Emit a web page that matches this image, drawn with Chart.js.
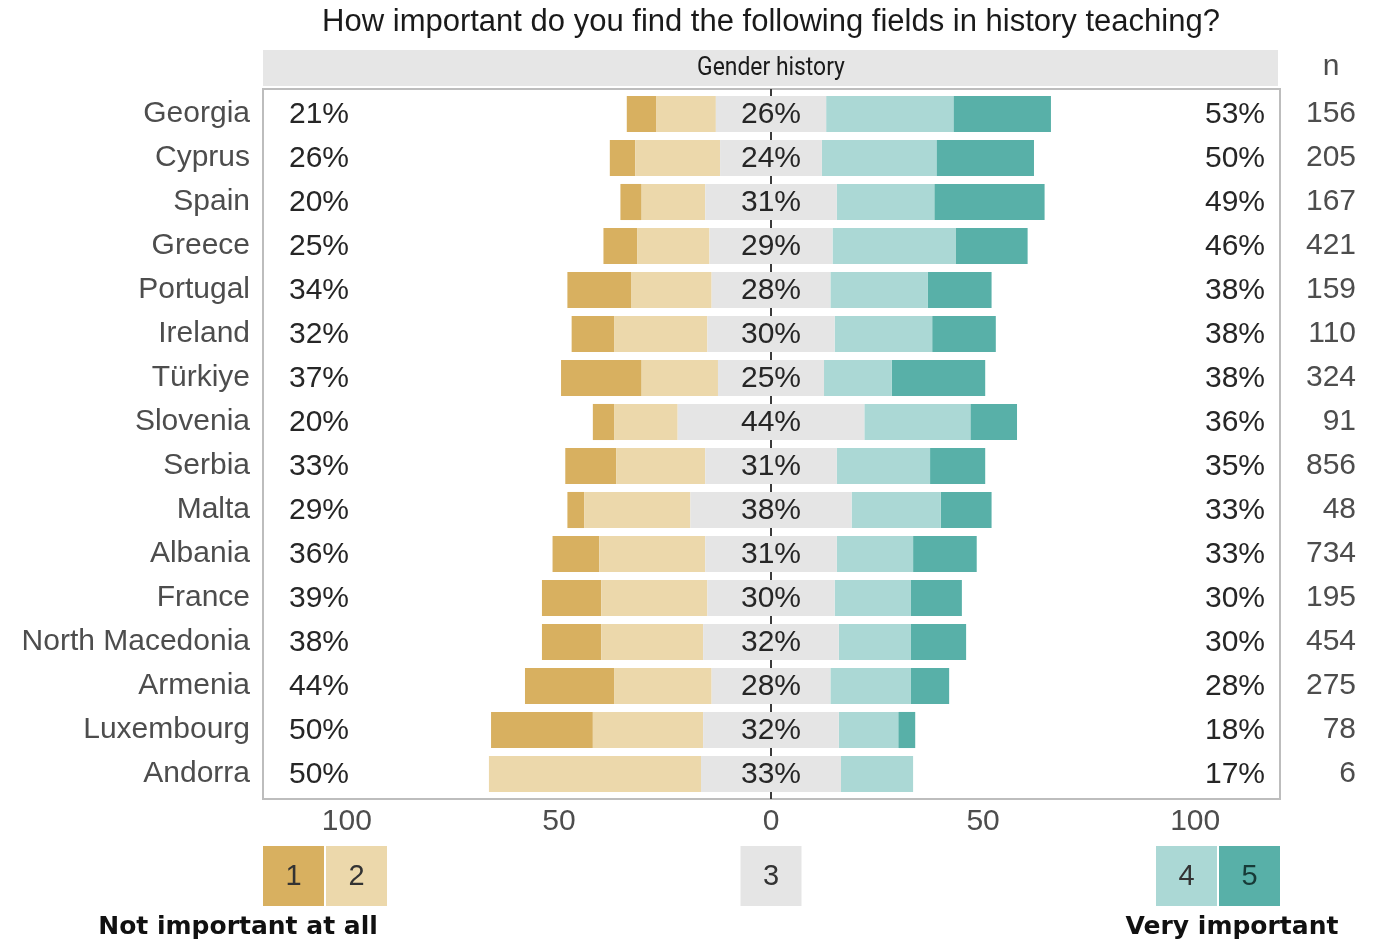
<!DOCTYPE html>
<html>
<head>
<meta charset="utf-8">
<script src="https://cdn.jsdelivr.net/npm/chart.js@4"></script>
<style>
  html, body { margin: 0; padding: 0; background: #fff; }
  #wrap { width: 1373px; height: 942px; position: relative; }
</style>
</head>
<body>
<div id="wrap"><canvas id="chart"></canvas></div>
<script>
const countries = ['Georgia', 'Cyprus', 'Spain', 'Greece', 'Portugal', 'Ireland', 'Türkiye', 'Slovenia',
  'Serbia', 'Malta', 'Albania', 'France', 'North Macedonia', 'Armenia', 'Luxembourg', 'Andorra'];
const nValues = [156, 205, 167, 421, 159, 110, 324, 91, 856, 48, 734, 195, 454, 275, 78, 6];

// share of answers per level (1 = not important at all ... 5 = very important)
const level1 = [7, 6, 5, 8, 15, 10, 19, 5, 12, 4, 11, 14, 14, 21, 24, 0];
const level2 = [14, 20, 15, 17, 19, 22, 18, 15, 21, 25, 25, 25, 24, 23, 26, 50];
const level3 = [26, 24, 31, 29, 28, 30, 25, 44, 31, 38, 31, 30, 32, 28, 32, 33];
const level4 = [30, 27, 23, 29, 23, 23, 16, 25, 22, 21, 18, 18, 17, 19, 14, 17];
const level5 = [23, 23, 26, 17, 15, 15, 22, 11, 13, 12, 15, 12, 13, 9, 4, 0];

// printed summaries
const lowPct = [21, 26, 20, 25, 34, 32, 37, 20, 33, 29, 36, 39, 38, 44, 50, 50];
const midPct = [26, 24, 31, 29, 28, 30, 25, 44, 31, 38, 31, 30, 32, 28, 32, 33];
const highPct = [53, 50, 49, 46, 38, 38, 38, 36, 35, 33, 33, 30, 30, 28, 18, 17];

const xTicks = [-100, -50, 0, 50, 100];
const levelNames = ['1', '2', '3', '4', '5'];

const TITLE = 'How important do you find the following fields in history teaching?';
const COLORS = ['#d8b060', '#ecd8ab', '#e5e5e5', '#abd8d5', '#58b0a8'];
const FONT = '"Liberation Sans", Arial, sans-serif';
const GREY_TEXT = '#4d4d4d';
const LABEL_SIZE = 30;

function neg(arr) {
  return arr.map((v) => -v);
}

function half(arr, sign) {
  return arr.map((v) => sign * v / 2);
}

// frame, zero line, percentages, facet strip and legend drawn around the bars
const decorations = {
  id: 'decorations',
  beforeDatasetsDraw(chart) {
    const { ctx, chartArea: a, scales } = chart;
    const x0 = scales.x.getPixelForValue(0);
    ctx.save();
    ctx.strokeStyle = '#bdbdbd';
    ctx.lineWidth = 2;
    ctx.strokeRect(a.left + 1, a.top - 3, a.right - a.left - 1, a.bottom - a.top + 6);
    ctx.strokeStyle = '#3a3a3a';
    ctx.beginPath();
    ctx.moveTo(x0, a.top - 3);
    ctx.lineTo(x0, a.bottom + 3);
    ctx.stroke();
    ctx.restore();
  },
  afterDatasetsDraw(chart) {
    const { ctx, chartArea: a, scales } = chart;
    const x0 = scales.x.getPixelForValue(0);
    ctx.save();
    ctx.font = `${LABEL_SIZE}px ${FONT}`;
    ctx.fillStyle = '#262626';
    ctx.textBaseline = 'middle';
    countries.forEach((c, i) => {
      const y = scales.y.getPixelForValue(i) + 1;
      ctx.textAlign = 'left';
      ctx.fillText(`${lowPct[i]}%`, a.left + 27, y);
      ctx.textAlign = 'center';
      ctx.fillText(`${midPct[i]}%`, x0, y);
      ctx.textAlign = 'right';
      ctx.fillText(`${highPct[i]}%`, a.right - 15, y);
    });
    ctx.restore();
  },
  afterDraw(chart) {
    const { ctx, chartArea: a, scales } = chart;
    const x0 = scales.x.getPixelForValue(0);
    ctx.save();
    ctx.textAlign = 'center';
    ctx.textBaseline = 'middle';

    // title, centred over the panel
    ctx.fillStyle = '#1a1a1a';
    ctx.font = `31px ${FONT}`;
    ctx.fillText(TITLE, x0, 22);

    // facet strip
    ctx.fillStyle = '#e6e6e6';
    ctx.fillRect(a.left + 1, a.top - 42, a.right - a.left - 3, 36);
    ctx.fillStyle = '#1a1a1a';
    ctx.save();
    ctx.translate(x0, a.top - 24);
    ctx.scale(0.88, 1);
    ctx.font = '26px Roboto, sans-serif';
    ctx.fillText('Gender history', 0, 0);
    ctx.restore();

    ctx.fillStyle = GREY_TEXT;
    ctx.font = `${LABEL_SIZE}px ${FONT}`;
    ctx.fillText('n', 1331, a.top - 25);

    // legend boxes
    const boxW = 61, boxH = 60, gap = 2, boxTop = 846;
    const boxes = [
      { x: a.left + 1, c: 0 },
      { x: a.left + 1 + boxW + gap, c: 1 },
      { x: x0 - boxW / 2, c: 2 },
      { x: a.right - 2 * boxW - gap, c: 3 },
      { x: a.right - boxW, c: 4 }
    ];
    boxes.forEach((b) => {
      ctx.fillStyle = COLORS[b.c];
      ctx.fillRect(b.x, boxTop, boxW, boxH);
      ctx.fillStyle = b.c === 4 ? '#173a37' : '#333';
      ctx.font = `29px ${FONT}`;
      ctx.fillText(levelNames[b.c], b.x + boxW / 2, boxTop + boxH / 2 + 1);
    });

    ctx.fillStyle = '#111';
    ctx.font = 'bold 25px "DejaVu Sans", sans-serif';
    ctx.fillText('Not important at all', 238, 927);
    ctx.fillText('Very important', 1232, 927);
    ctx.restore();
  }
};

new Chart(document.getElementById('chart'), {
  type: 'bar',
  data: {
    labels: countries,
    datasets: [
      { label: '3', data: half(level3, -1), backgroundColor: COLORS[2] },
      { label: '3', data: half(level3, 1), backgroundColor: COLORS[2] },
      { label: '2', data: neg(level2), backgroundColor: COLORS[1] },
      { label: '4', data: level4, backgroundColor: COLORS[3] },
      { label: '1', data: neg(level1), backgroundColor: COLORS[0] },
      { label: '5', data: level5, backgroundColor: COLORS[4] }
    ]
  },
  options: {
    indexAxis: 'y',
    responsive: true,
    maintainAspectRatio: false,
    animation: false,
    datasets: { bar: { barPercentage: 0.82, categoryPercentage: 1, borderWidth: 0 } },
    layout: { padding: { left: 0, right: 17, top: 92, bottom: 0 } },
    plugins: {
      legend: { display: false },
      tooltip: { enabled: false },
      title: { display: false }
    },
    scales: {
      x: {
        type: 'linear',
        stacked: true,
        min: -120,
        max: 120,
        afterBuildTicks: (axis) => { axis.ticks = xTicks.map((v) => ({ value: v })); },
        afterFit: (s) => { s.height = 146; },
        border: { display: false },
        grid: { display: false, drawTicks: false },
        ticks: {
          padding: 8,
          color: GREY_TEXT,
          font: { family: FONT, size: LABEL_SIZE },
          callback: (v) => Math.abs(v)
        }
      },
      y: {
        type: 'category',
        stacked: true,
        afterFit: (s) => { s.width = 262; },
        border: { display: false },
        grid: { display: false },
        ticks: { padding: 4, color: GREY_TEXT, font: { family: FONT, size: LABEL_SIZE } }
      },
      y2: {
        type: 'category',
        position: 'right',
        labels: nValues.map(String),
        offset: true,
        afterFit: (s) => { s.width = 76; },
        border: { display: false },
        grid: { display: false },
        ticks: { crossAlign: 'far', color: GREY_TEXT, font: { family: FONT, size: LABEL_SIZE } }
      }
    }
  },
  plugins: [decorations]
});
</script>
</body>
</html>
